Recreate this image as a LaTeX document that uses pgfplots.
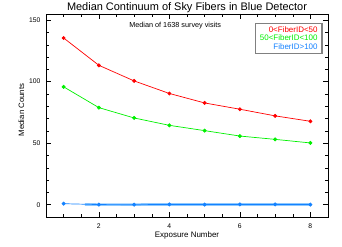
\documentclass[border=0pt]{standalone}
\usepackage{pgfplots}
\pgfplotsset{compat=1.18}
\usepackage{fontspec}
\setmainfont{Liberation Sans}
\definecolor{cred}{RGB}{255,0,0}
\definecolor{cgreen}{RGB}{0,240,0}
\definecolor{cblue}{RGB}{20,130,255}
\definecolor{cband}{RGB}{140,200,255}
\begin{document}
\begin{tikzpicture}
\useasboundingbox (0,0) rectangle (342bp,247bp);
\begin{axis}[
  at={(46bp,30bp)}, anchor=south west,
  scale only axis, width=282bp, height=203bp,
  clip=false,
  xmin=0.5, xmax=8.5, ymin=-10, ymax=155,
  xtick={2,4,6,8}, ytick={0,50,100,150},
  minor xtick={1,1.5,...,8.5},
  minor ytick={-10,0,...,150},
  major tick length=5bp, minor tick length=2.7bp,
  axis line style={line width=0.7bp},
  every tick/.style={black, line width=0.5bp},
  tick label style={font=\fontsize{6.8}{7}\selectfont},
  xticklabel style={anchor=base, yshift=-11.3bp, inner sep=0pt},
  yticklabel style={anchor=east, xshift=-5.3bp, inner sep=0pt},
  /pgf/number format/assume math mode=true,
  legend style={at={(0.981,0.957)}, anchor=north east, draw=gray, line width=1.2bp,
    font=\fontsize{8}{8}\selectfont, inner xsep=2.5bp, inner ysep=1bp, row sep=-2.6bp,
    cells={anchor=east}},
  legend image code/.code={},
  legend cell align=right,
]
\addplot[cred, line width=0.7bp, mark=*, mark size=1.6bp, mark options={solid}]
  coordinates {(1,135.5)(2,113.3)(3,100.6)(4,90.4)(5,82.7)(6,77.6)(7,72.2)(8,67.8)};
\addlegendentry[text=cred]{0<FiberID<50}
\addplot[cgreen, line width=0.7bp, mark=*, mark size=1.6bp]
  coordinates {(1,95.8)(2,78.9)(3,70.5)(4,64.5)(5,60.2)(6,55.8)(7,53.1)(8,50.2)};
\addlegendentry[text=cgreen]{50<FiberID<100}
\addplot[cband, line width=2.6bp, forget plot]
  coordinates {(1.6,0.2)(2,0.1)(3,0.1)(4,0.2)(5,0.2)(6,0.2)(7,0.2)(8,0.2)};
\addplot[cblue, line width=0.7bp, mark=*, mark size=1.6bp]
  coordinates {(1,0.8)(2,0.1)(3,0.0)(4,0.2)(5,0.1)(6,0.2)(7,0.2)(8,0.1)};
\addlegendentry[text=cblue]{FiberID>100}
\node[font=\fontsize{7.3}{8}\selectfont, anchor=base] at (axis description cs:0.458,0.934) {Median of 1638 survey visits};
\node[font=\fontsize{11}{12}\selectfont, anchor=base, inner sep=0pt] at (axis description cs:0.5,1.015) {Median Continuum of Sky Fibers in Blue Detector};
\node[font=\fontsize{8}{9}\selectfont, anchor=base, inner sep=0pt] at (axis description cs:0.5,-0.102) {Exposure Number};
\node[font=\fontsize{7.8}{9}\selectfont, rotate=90, anchor=center, inner sep=0pt] at (axis description cs:-0.087,0.527) {Median Counts};
\end{axis}
\end{tikzpicture}
\end{document}
